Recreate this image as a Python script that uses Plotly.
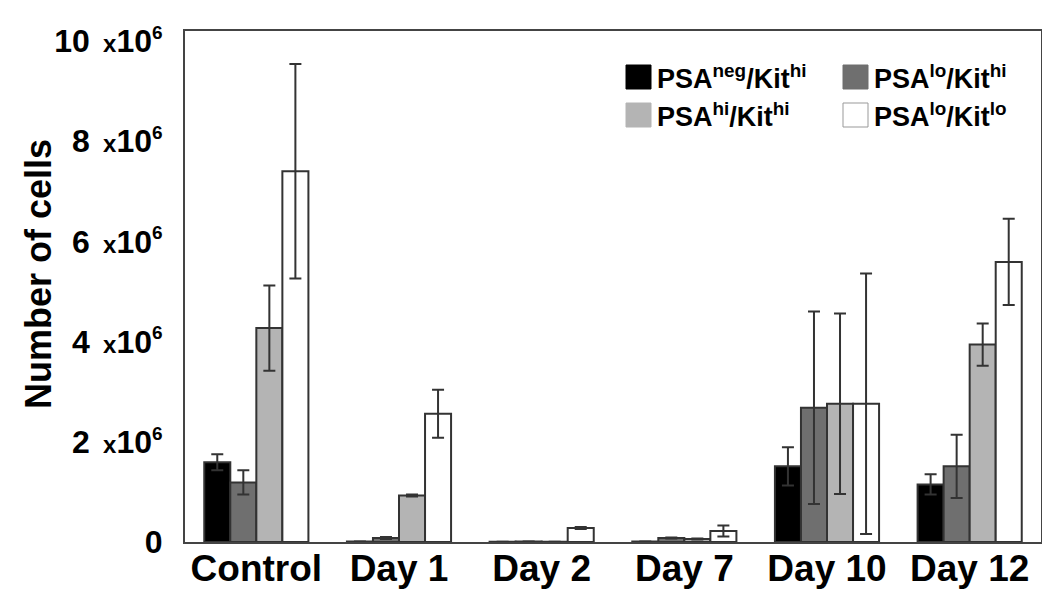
import plotly.graph_objects as go

categories = ["Control", "Day 1", "Day 2", "Day 7", "Day 10", "Day 12"]
series_names = ["PSA<sup>neg</sup>/Kit<sup>hi</sup>", "PSA<sup>lo</sup>/Kit<sup>hi</sup>",
                "PSA<sup>hi</sup>/Kit<sup>hi</sup>", "PSA<sup>lo</sup>/Kit<sup>lo</sup>"]
neg_hi = [1.59, 0.01, 0.005, 0.01, 1.51, 1.15]
neg_hi_err = [0.16, 0.0, 0.0, 0.0, 0.38, 0.20]
lo_hi = [1.19, 0.08, 0.01, 0.08, 2.68, 1.51]
lo_hi_err = [0.24, 0.02, 0.0, 0.01, 1.92, 0.63]
hi_hi = [4.27, 0.93, 0.005, 0.06, 2.76, 3.94]
hi_hi_err = [0.85, 0.02, 0.0, 0.01, 1.80, 0.42]
lo_lo = [7.40, 2.56, 0.28, 0.22, 2.76, 5.59]
lo_lo_err = [2.14, 0.48, 0.02, 0.11, 2.60, 0.86]
y_ticks = [0, 2, 4, 6, 8, 10]
y_tick_text = ["0"] + [
    f"{v}<span style='font-size:24px'>&nbsp;&nbsp;x</span>10<sup><span style='font-size:19px'>6</span></sup>"
    for v in y_ticks[1:]]
y_title = "Number of cells"

colors = ["#000000", "#6f6f6f", "#b4b4b4", "#ffffff"]
values = [neg_hi, lo_hi, hi_hi, lo_lo]
errors = [neg_hi_err, lo_hi_err, hi_hi_err, lo_lo_err]
FONT = "Liberation Sans, Arial"

fig = go.Figure()
for name, vals, errs, col in zip(series_names, values, errors, colors):
    fig.add_trace(go.Bar(
        x=categories, y=vals, name=name,
        marker=dict(color=col, line=dict(color="#333333", width=2)),
        error_y=dict(type="data", array=errs, visible=True, color="#333333", thickness=2, width=6),
        showlegend=False,
    ))

W, H = 1050, 595
ml, mr, mt, mb = 177, 17, 23, 61
pw, ph = W - ml - mr, H - mt - mb
def px2paper(x, y):
    return (x - ml) / pw, (H - mb - y) / ph

# manual legend (two columns)
leg_pos = [(618, 69), (835, 69), (618, 107), (835, 107)]
for (lx, ly), name, col in zip(leg_pos, series_names, colors):
    x0, y0 = px2paper(lx, ly + 12)
    x1, y1 = px2paper(lx + 25, ly - 12)
    fig.add_shape(type="rect", xref="paper", yref="paper", x0=x0, y0=y0, x1=x1, y1=y1,
                  fillcolor=col, line=dict(color="#999999" if col == "#ffffff" else col, width=1))
    tx, ty = px2paper(lx + 29, ly)
    fig.add_annotation(xref="paper", yref="paper", x=tx, y=ty, text=f"<b>{name}</b>",
                       showarrow=False, xanchor="left", yanchor="middle",
                       font=dict(family=FONT, size=27, color="black"))

# y-axis title
tx, ty = px2paper(30, 266)
fig.add_annotation(xref="paper", yref="paper", x=tx, y=ty, text=f"<b>{y_title}</b>",
                   textangle=-90, showarrow=False, xanchor="center", yanchor="middle",
                   font=dict(family=FONT, size=36, color="black"))

fig.update_layout(
    width=W, height=H,
    margin=dict(l=ml, r=mr, t=mt, b=mb),
    barmode="group", bargap=0.27, bargroupgap=0,
    plot_bgcolor="white", paper_bgcolor="white",
    font=dict(family=FONT, color="black"),
    xaxis=dict(showline=True, linecolor="#444444", linewidth=2, mirror=True, automargin=False,
               tickfont=dict(size=37, family=FONT, color="black"),
               ticks="", ticklabelstandoff=-7,
               tickvals=categories, ticktext=[f"<b>{c}</b>" for c in categories]),
    yaxis=dict(range=[0, 10.2], showline=True, linecolor="#444444", linewidth=2, mirror=True,
               showgrid=False, zeroline=False, tickvals=y_ticks, automargin=False,
               ticktext=[f"<b>{t}</b>" for t in y_tick_text],
               tickfont=dict(size=32, family=FONT, color="black"),
               ticks="", ticklabelstandoff=14),
)

fig.write_html("out.html")
